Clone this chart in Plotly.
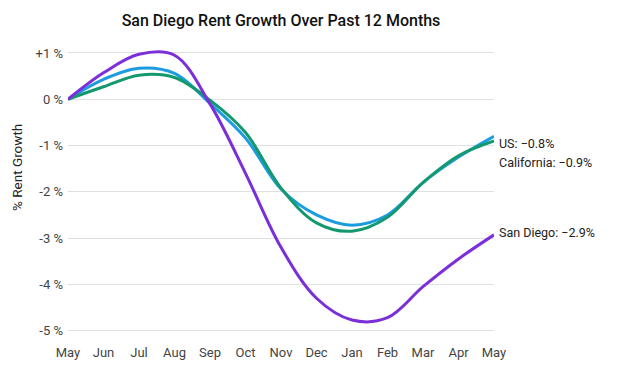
import plotly.graph_objects as go

months = ["May", "Jun", "Jul", "Aug", "Sep", "Oct", "Nov", "Dec", "Jan", "Feb", "Mar", "Apr", "May"]
us = [0.0, 0.43, 0.67, 0.56, -0.09, -0.84, -1.94, -2.5, -2.72, -2.5, -1.8, -1.25, -0.8]
california = [0.0, 0.27, 0.52, 0.47, -0.02, -0.72, -1.92, -2.67, -2.85, -2.55, -1.8, -1.22, -0.9]
san_diego = [0.0, 0.57, 0.97, 0.95, -0.1, -1.6, -3.2, -4.3, -4.77, -4.72, -4.05, -3.45, -2.93]
ytick_vals = [1, 0, -1, -2, -3, -4, -5]
ytick_text = ["+1 %", "0 %", "-1 %", "-2 %", "-3 %", "-4 %", "-5 %"]

series = [
    ("US", us, "#1b9ce0", "US: \u22120.8%", -7),
    ("California", california, "#14996f", "California: \u22120.9%", -22),
    ("San Diego", san_diego, "#7b2fd9", "San Diego: \u22122.9%", 2),
]

W, H = 623, 373
L, R, T, B = 68, 129, 46, 40
plot_w = W - L - R
plot_h = H - T - B

x = list(range(len(months)))
fig = go.Figure()
for name, vals, color, label, ys in series:
    fig.add_trace(go.Scatter(x=x, y=vals, mode="lines", name=name,
                             line=dict(color=color, width=3, shape="spline", smoothing=1),
                             hoverinfo="skip"))

annotations = []
for name, vals, color, label, ys in series:
    annotations.append(dict(x=x[-1], y=vals[-1], xref="x", yref="y", text=label,
                            showarrow=False, xanchor="left", yanchor="middle",
                            xshift=3, yshift=ys,
                            font=dict(family="Roboto", size=12.5, color="#222222")))
annotations.append(dict(x=(17 - L) / plot_w, y=(H - B - 168) / plot_h, xref="paper", yref="paper",
                        text="% Rent Growth", showarrow=False, textangle=-90,
                        xanchor="center", yanchor="middle",
                        font=dict(family="Roboto", size=13.5, color="#222222")))

fig.update_layout(
    width=W, height=H,
    margin=dict(l=L, r=R, t=T, b=B, autoexpand=False),
    paper_bgcolor="white", plot_bgcolor="white",
    showlegend=False,
    title=dict(text="San Diego Rent Growth Over Past 12 Months", x=(L + W - R) / 2 / W,
               xanchor="center", y=1 - 20 / H, yanchor="middle", automargin=False,
               font=dict(family="Roboto", size=16, color="#111111", weight=500)),
    xaxis=dict(range=[0, 12], tickvals=x, ticktext=months, showgrid=False, zeroline=False,
               showline=False, ticks="", ticklabelstandoff=10, automargin=False,
               tickfont=dict(family="Roboto", size=13, color="#444444")),
    yaxis=dict(range=[-5.05, 1.15], tickvals=ytick_vals, ticktext=ytick_text,
               showgrid=True, gridcolor="#e0e0e0", gridwidth=1, zeroline=False,
               showline=False, ticks="", ticklabelstandoff=4, automargin=False,
               tickfont=dict(family="Roboto", size=13, color="#444444")),
    annotations=annotations,
)

fig.write_html("out.html", config={"displayModeBar": False},
               post_script="document.body.style.margin='0px';")
